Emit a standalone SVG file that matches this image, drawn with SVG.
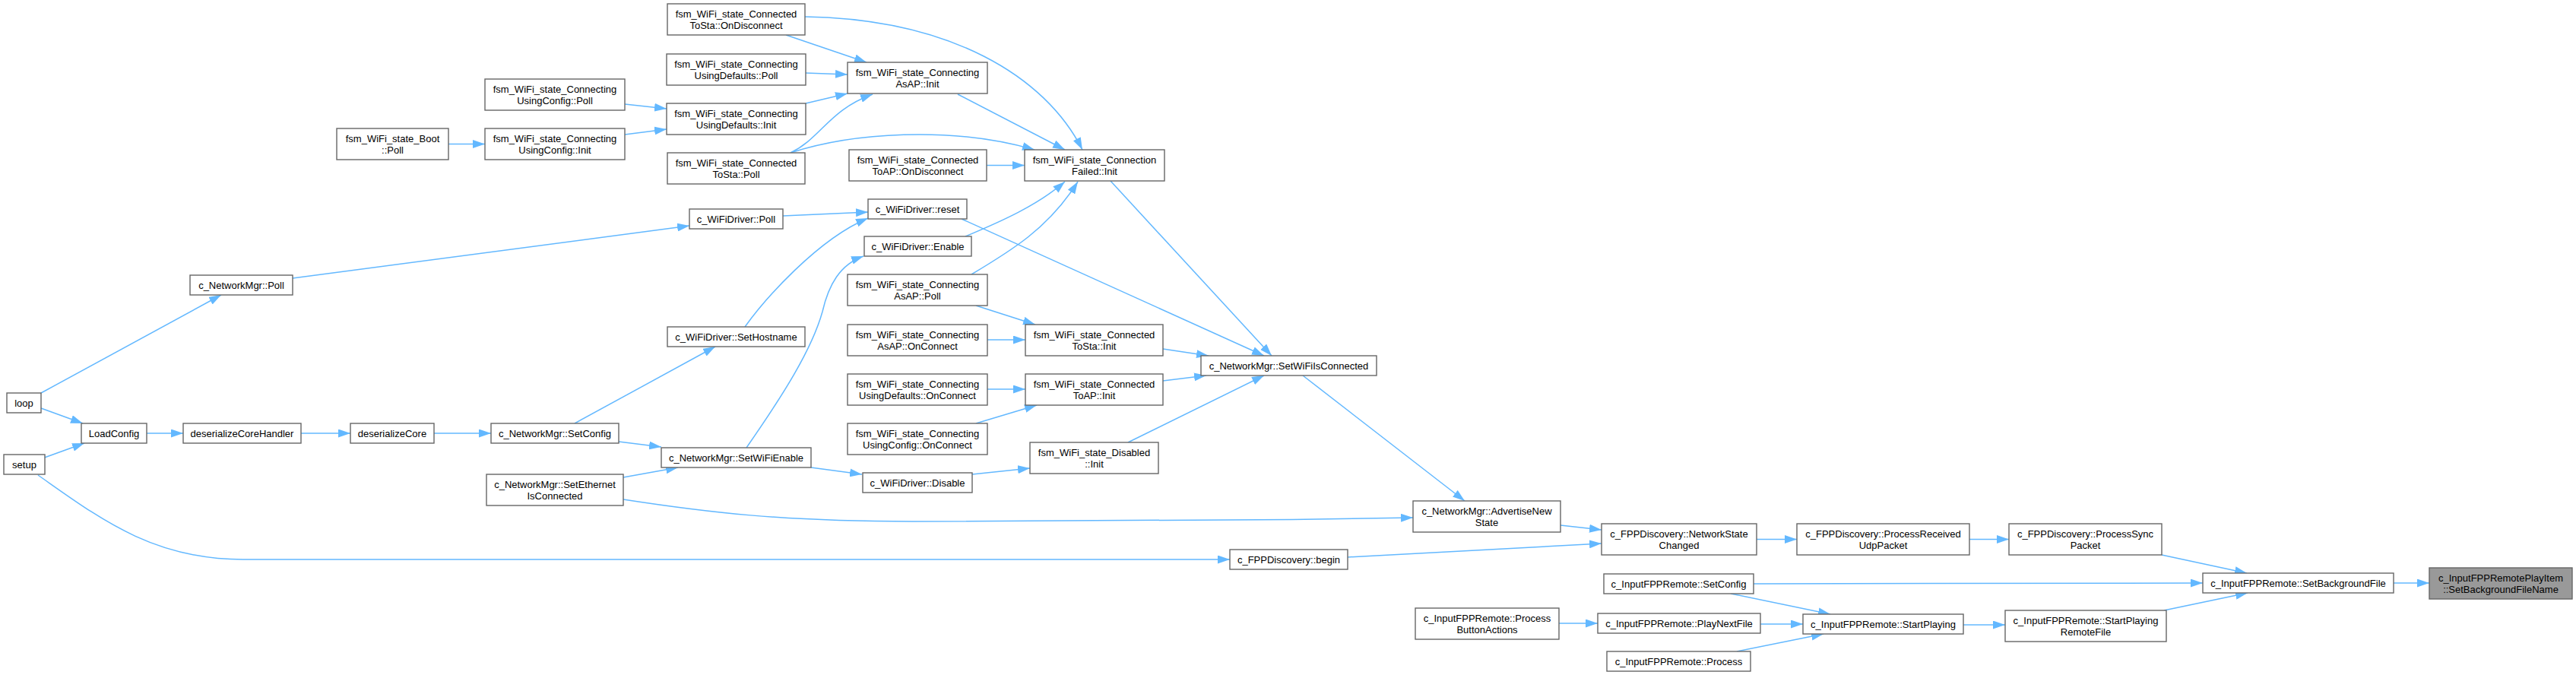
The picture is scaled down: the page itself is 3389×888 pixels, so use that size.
<svg xmlns="http://www.w3.org/2000/svg" width="3389" height="888" viewBox="0 0 3389 888">
<style>
.node rect{fill:#ffffff;stroke:#666666;stroke-width:1.4}
.root rect{fill:#999999;stroke:#666666;stroke-width:1.4}
text{font-family:"Liberation Sans",Arial,Helvetica,sans-serif;font-size:13px;text-anchor:middle;fill:#000000}
.edges path{fill:none;stroke:#63b8ff;stroke-width:1.5;marker-end:url(#arr)}
</style>
<defs>
<marker id="arr" viewBox="0 0 16 11" refX="16" refY="5.5" markerWidth="16" markerHeight="11" markerUnits="userSpaceOnUse" orient="auto">
<path d="M0,0 L16,5.5 L0,11 z" fill="#63b8ff" stroke="none"/>
</marker>
</defs>
<rect x="0" y="0" width="3389" height="888" fill="#ffffff"/>
<g class="edges" id="edges">
<path d="M3149,767 L3196,767"/>
<path d="M2844,730 L2956,754"/>
<path d="M2307,768 L2898,767"/>
<path d="M2847,803 L2957,780"/>
<path d="M2591,709.5 L2643,709.5"/>
<path d="M2583,822 L2638,822"/>
<path d="M2311,709.5 L2364,709.5"/>
<path d="M2277,781 L2408,808"/>
<path d="M2316,821 L2372,821"/>
<path d="M2285,857 L2399,834"/>
<path d="M2051,820 L2102,820"/>
<path d="M2053,691 L2107,697"/>
<path d="M1773,733 L2107,715"/>
<path d="M1714,494 L1927,659"/>
<path d="M820,657 C930,674 1030,686 1200,686 L1700,683.5 L1859,681"/>
<path d="M50,625 C130,681 200,736 320,736 L1618,736"/>
<path d="M1461,238 L1673,468"/>
<path d="M1265,288 L1663,468"/>
<path d="M1530,459 L1590,468"/>
<path d="M1530,501 L1587,494"/>
<path d="M1484,582 L1663,494"/>
<path d="M1260,124 L1401,197"/>
<path d="M1059,22 C1250,25 1375,100 1424,197"/>
<path d="M1040,201 C1120,175 1250,165 1361,197"/>
<path d="M1040,201 C1080,182 1090,145 1148,124"/>
<path d="M1298,217.5 L1348,217.5"/>
<path d="M1270,311 C1318,291 1365,270 1401,239"/>
<path d="M1278,361 C1330,330 1380,300 1418,239"/>
<path d="M1284,402 L1362,427"/>
<path d="M1299,447 L1349,447"/>
<path d="M1299,512 L1349,512"/>
<path d="M1284,557 L1364,533"/>
<path d="M1279,624 L1355,616"/>
<path d="M1034,46 L1140,82"/>
<path d="M1060,96 L1115,98"/>
<path d="M1060,136 L1115,123"/>
<path d="M1030,284 L1142,279"/>
<path d="M980,430 C1005,395 1075,315 1142,287"/>
<path d="M982,589 C1030,520 1068,460 1082,410 C1090,375 1105,348 1136,337"/>
<path d="M1067,615 L1134,624"/>
<path d="M822,137 L877,143"/>
<path d="M822,177 L877,170"/>
<path d="M385,366 L907,297"/>
<path d="M756,557 L941,456"/>
<path d="M814,581 L870,588"/>
<path d="M820,628 L892,615"/>
<path d="M590,189.5 L638,189.5"/>
<path d="M571,570 L646,570"/>
<path d="M396,570 L461,570"/>
<path d="M193,570 L241,570"/>
<path d="M54,537 L109,557"/>
<path d="M58.5,602 L111,583"/>
<path d="M54,517 L291,388"/>
</g>
<g id="loop" class="node"><rect x="9" y="517" width="45" height="26"/><text x="31.5" y="534.6">loop</text></g>
<g id="setup" class="node"><rect x="5" y="598" width="54" height="26"/><text x="32" y="615.6">setup</text></g>
<g id="LoadConfig" class="node"><rect x="107" y="557" width="86" height="26"/><text x="150" y="574.6">LoadConfig</text></g>
<g id="NetworkMgr_Poll" class="node"><rect x="250" y="362" width="135" height="26"/><text x="317.5" y="379.6">c_NetworkMgr::Poll</text></g>
<g id="deserializeCoreHandler" class="node"><rect x="241" y="557" width="155" height="26"/><text x="318.5" y="574.6">deserializeCoreHandler</text></g>
<g id="Boot_Poll" class="node"><rect x="443" y="169" width="147" height="41"/><text x="516.5" y="186.6">fsm_WiFi_state_Boot<tspan x="516.5" y="201.6">::Poll</tspan></text></g>
<g id="deserializeCore" class="node"><rect x="461" y="557" width="110" height="26"/><text x="516" y="574.6">deserializeCore</text></g>
<g id="UsingConfig_Poll" class="node"><rect x="638" y="104" width="184" height="41"/><text x="730" y="121.6">fsm_WiFi_state_Connecting<tspan x="730" y="136.6">UsingConfig::Poll</tspan></text></g>
<g id="UsingConfig_Init" class="node"><rect x="638" y="169" width="184" height="41"/><text x="730" y="186.6">fsm_WiFi_state_Connecting<tspan x="730" y="201.6">UsingConfig::Init</tspan></text></g>
<g id="NetworkMgr_SetConfig" class="node"><rect x="646" y="557" width="168" height="26"/><text x="730" y="574.6">c_NetworkMgr::SetConfig</text></g>
<g id="SetEthernetIsConnected" class="node"><rect x="640" y="624" width="180" height="41"/><text x="730" y="641.6">c_NetworkMgr::SetEthernet<tspan x="730" y="656.6">IsConnected</tspan></text></g>
<g id="ToSta_OnDisconnect" class="node"><rect x="878" y="5" width="181" height="41"/><text x="968.5" y="22.6">fsm_WiFi_state_Connected<tspan x="968.5" y="37.6">ToSta::OnDisconnect</tspan></text></g>
<g id="UsingDefaults_Poll" class="node"><rect x="877" y="71" width="183" height="41"/><text x="968.5" y="88.6">fsm_WiFi_state_Connecting<tspan x="968.5" y="103.6">UsingDefaults::Poll</tspan></text></g>
<g id="UsingDefaults_Init" class="node"><rect x="877" y="136" width="183" height="41"/><text x="968.5" y="153.6">fsm_WiFi_state_Connecting<tspan x="968.5" y="168.6">UsingDefaults::Init</tspan></text></g>
<g id="ToSta_Poll" class="node"><rect x="878" y="201" width="181" height="41"/><text x="968.5" y="218.6">fsm_WiFi_state_Connected<tspan x="968.5" y="233.6">ToSta::Poll</tspan></text></g>
<g id="WiFiDriver_Poll" class="node"><rect x="907" y="275" width="123" height="26"/><text x="968.5" y="292.6">c_WiFiDriver::Poll</text></g>
<g id="WiFiDriver_SetHostname" class="node"><rect x="878" y="430" width="181" height="26"/><text x="968.5" y="447.6">c_WiFiDriver::SetHostname</text></g>
<g id="NetworkMgr_SetWiFiEnable" class="node"><rect x="870" y="589" width="197" height="26"/><text x="968.5" y="606.6">c_NetworkMgr::SetWiFiEnable</text></g>
<g id="AsAP_Init" class="node"><rect x="1115" y="82" width="184" height="41"/><text x="1207" y="99.6">fsm_WiFi_state_Connecting<tspan x="1207" y="114.6">AsAP::Init</tspan></text></g>
<g id="ToAP_OnDisconnect" class="node"><rect x="1117" y="197" width="181" height="41"/><text x="1207.5" y="214.6">fsm_WiFi_state_Connected<tspan x="1207.5" y="229.6">ToAP::OnDisconnect</tspan></text></g>
<g id="WiFiDriver_reset" class="node"><rect x="1142" y="262" width="130" height="26"/><text x="1207" y="279.6">c_WiFiDriver::reset</text></g>
<g id="WiFiDriver_Enable" class="node"><rect x="1137" y="311" width="141" height="26"/><text x="1207.5" y="328.6">c_WiFiDriver::Enable</text></g>
<g id="AsAP_Poll" class="node"><rect x="1115" y="361" width="184" height="41"/><text x="1207" y="378.6">fsm_WiFi_state_Connecting<tspan x="1207" y="393.6">AsAP::Poll</tspan></text></g>
<g id="AsAP_OnConnect" class="node"><rect x="1115" y="427" width="184" height="41"/><text x="1207" y="444.6">fsm_WiFi_state_Connecting<tspan x="1207" y="459.6">AsAP::OnConnect</tspan></text></g>
<g id="UsingDefaults_OnConnect" class="node"><rect x="1115" y="492" width="184" height="41"/><text x="1207" y="509.6">fsm_WiFi_state_Connecting<tspan x="1207" y="524.6">UsingDefaults::OnConnect</tspan></text></g>
<g id="UsingConfig_OnConnect" class="node"><rect x="1115" y="557" width="184" height="41"/><text x="1207" y="574.6">fsm_WiFi_state_Connecting<tspan x="1207" y="589.6">UsingConfig::OnConnect</tspan></text></g>
<g id="WiFiDriver_Disable" class="node"><rect x="1135" y="622" width="144" height="26"/><text x="1207" y="639.6">c_WiFiDriver::Disable</text></g>
<g id="ConnectionFailed_Init" class="node"><rect x="1348" y="197" width="184" height="41"/><text x="1440" y="214.6">fsm_WiFi_state_Connection<tspan x="1440" y="229.6">Failed::Init</tspan></text></g>
<g id="ToSta_Init" class="node"><rect x="1349" y="427" width="181" height="41"/><text x="1439.5" y="444.6">fsm_WiFi_state_Connected<tspan x="1439.5" y="459.6">ToSta::Init</tspan></text></g>
<g id="ToAP_Init" class="node"><rect x="1349" y="492" width="181" height="41"/><text x="1439.5" y="509.6">fsm_WiFi_state_Connected<tspan x="1439.5" y="524.6">ToAP::Init</tspan></text></g>
<g id="Disabled_Init" class="node"><rect x="1355" y="582" width="169" height="41"/><text x="1439.5" y="599.6">fsm_WiFi_state_Disabled<tspan x="1439.5" y="614.6">::Init</tspan></text></g>
<g id="SetWiFiIsConnected" class="node"><rect x="1580" y="468" width="231" height="26"/><text x="1695.5" y="485.6">c_NetworkMgr::SetWiFiIsConnected</text></g>
<g id="FPPDiscovery_begin" class="node"><rect x="1618" y="723" width="155" height="26"/><text x="1695.5" y="740.6">c_FPPDiscovery::begin</text></g>
<g id="AdvertiseNewState" class="node"><rect x="1859" y="659" width="194" height="41"/><text x="1956" y="676.6">c_NetworkMgr::AdvertiseNew<tspan x="1956" y="691.6">State</tspan></text></g>
<g id="ProcessButtonActions" class="node"><rect x="1862" y="800" width="189" height="41"/><text x="1956.5" y="817.6">c_InputFPPRemote::Process<tspan x="1956.5" y="832.6">ButtonActions</tspan></text></g>
<g id="NetworkStateChanged" class="node"><rect x="2107" y="689" width="204" height="41"/><text x="2209" y="706.6">c_FPPDiscovery::NetworkState<tspan x="2209" y="721.6">Changed</tspan></text></g>
<g id="InputFPPRemote_SetConfig" class="node"><rect x="2110" y="755" width="197" height="26"/><text x="2208.5" y="772.6">c_InputFPPRemote::SetConfig</text></g>
<g id="PlayNextFile" class="node"><rect x="2102" y="807" width="214" height="26"/><text x="2209" y="824.6">c_InputFPPRemote::PlayNextFile</text></g>
<g id="InputFPPRemote_Process" class="node"><rect x="2114" y="857" width="189" height="26"/><text x="2208.5" y="874.6">c_InputFPPRemote::Process</text></g>
<g id="ProcessReceivedUdpPacket" class="node"><rect x="2364" y="689" width="227" height="41"/><text x="2477.5" y="706.6">c_FPPDiscovery::ProcessReceived<tspan x="2477.5" y="721.6">UdpPacket</tspan></text></g>
<g id="StartPlaying" class="node"><rect x="2372" y="808" width="211" height="26"/><text x="2477.5" y="825.6">c_InputFPPRemote::StartPlaying</text></g>
<g id="ProcessSyncPacket" class="node"><rect x="2643" y="689" width="201" height="41"/><text x="2743.5" y="706.6">c_FPPDiscovery::ProcessSync<tspan x="2743.5" y="721.6">Packet</tspan></text></g>
<g id="StartPlayingRemoteFile" class="node"><rect x="2638" y="803" width="212" height="41"/><text x="2744" y="820.6">c_InputFPPRemote::StartPlaying<tspan x="2744" y="835.6">RemoteFile</tspan></text></g>
<g id="SetBackgroundFile" class="node"><rect x="2898" y="754" width="251" height="26"/><text x="3023.5" y="771.6">c_InputFPPRemote::SetBackgroundFile</text></g>
<g id="SetBackgroundFileName" class="root"><rect x="3196" y="747" width="188" height="41"/><text x="3290" y="764.6">c_InputFPPRemotePlayItem<tspan x="3290" y="779.6">::SetBackgroundFileName</tspan></text></g>
</svg>
